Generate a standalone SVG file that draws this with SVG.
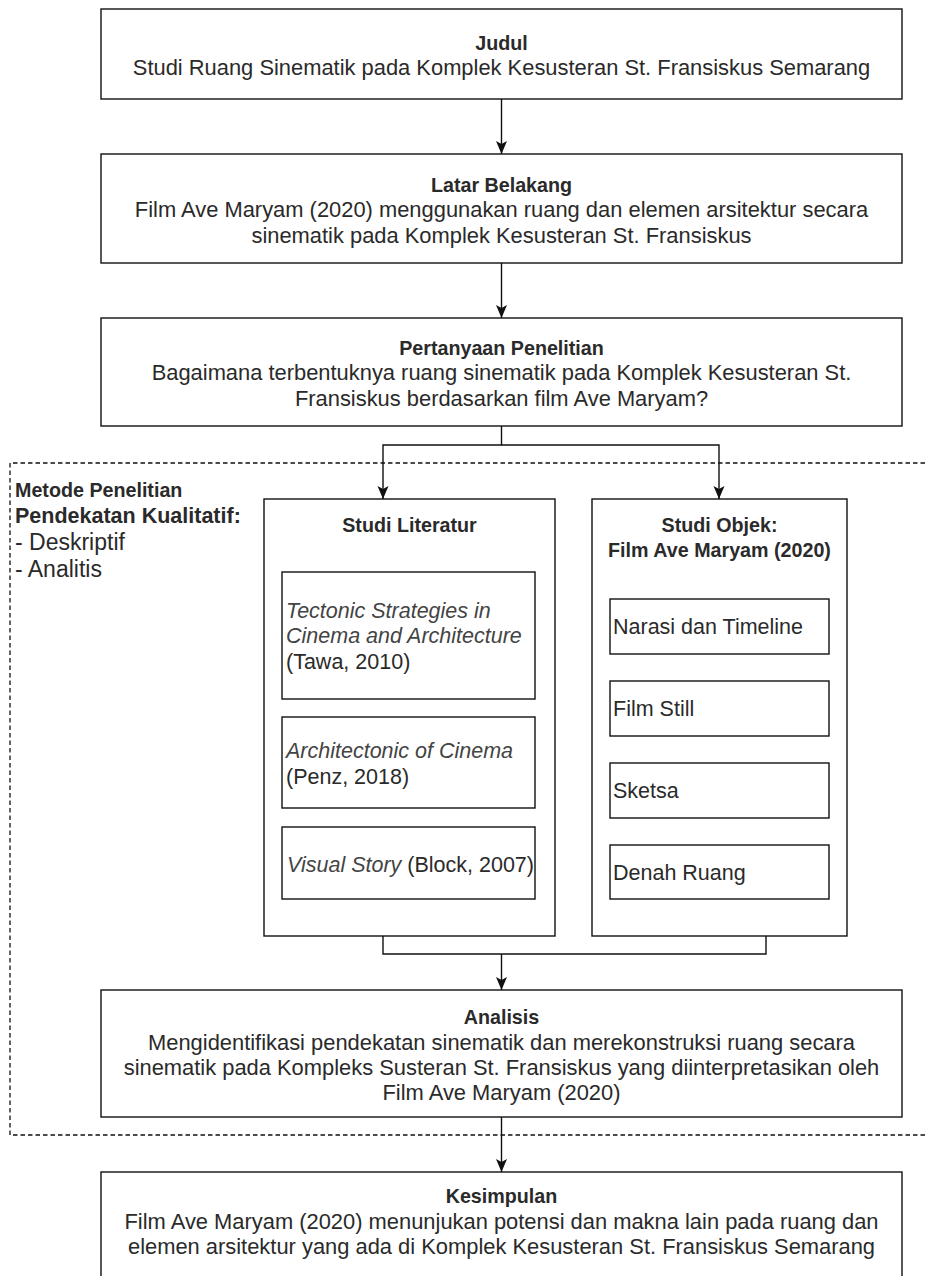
<svg xmlns="http://www.w3.org/2000/svg" width="926" height="1276" viewBox="0 0 926 1276">
<style>
.box{fill:#fff;stroke:#111;stroke-width:1.4}
.t{font-family:"Liberation Sans",Arial,Helvetica,sans-serif;fill:#2a2a2a}
.h{font-size:19.7px;font-weight:bold;text-anchor:middle}
.b{font-size:21.9px;text-anchor:middle}
.i{font-size:21.5px}
.it{font-style:italic;fill:#444}
.con{fill:none;stroke:#111;stroke-width:1.4}
.dash{fill:none;stroke:#111;stroke-width:1.3;stroke-dasharray:4.5 3}
</style>
<defs>
<marker id="arr" markerUnits="userSpaceOnUse" viewBox="0 0 13 13" markerWidth="13" markerHeight="13" refX="13" refY="6.5" orient="auto">
<path d="M0,1 L13,6.5 L0,12 L3,6.5 z" fill="#111"/>
</marker>
</defs>
<rect width="926" height="1276" fill="#fff"/>
<path class="dash" d="M940,463 H10 V1135 H940"/>
<g id="metode">
<text class="t" x="15" y="497" font-size="19.7" font-weight="bold">Metode Penelitian</text>
<text class="t" x="15" y="523" font-size="21.5" font-weight="bold">Pendekatan Kualitatif:</text>
<text class="t" x="15" y="550" font-size="23">- Deskriptif</text>
<text class="t" x="15" y="577" font-size="23">- Analitis</text>
</g>
<g id="connectors">
<path class="con" d="M501.5,99 V154" marker-end="url(#arr)"/>
<path class="con" d="M501.5,263 V318" marker-end="url(#arr)"/>
<path class="con" d="M501.5,426 V445 H383 V499" marker-end="url(#arr)"/>
<path class="con" d="M501.5,445 H719 V499" marker-end="url(#arr)"/>
<path class="con" d="M383,936 V954 H766 V936"/>
<path class="con" d="M501.5,954 V990" marker-end="url(#arr)"/>
<path class="con" d="M501.5,1117 V1172" marker-end="url(#arr)"/>
</g>
<g id="judul">
<rect class="box" x="101" y="9" width="801" height="90"/>
<text class="t h" x="501.5" y="50">Judul</text>
<text class="t b" x="501.5" y="75">Studi Ruang Sinematik pada Komplek Kesusteran St. Fransiskus Semarang</text>
</g>
<g id="latar">
<rect class="box" x="101" y="154" width="801" height="109"/>
<text class="t h" x="501.5" y="191.5">Latar Belakang</text>
<text class="t b" x="501.5" y="217">Film Ave Maryam (2020) menggunakan ruang dan elemen arsitektur secara</text>
<text class="t b" x="501.5" y="242.5">sinematik pada Komplek Kesusteran St. Fransiskus</text>
</g>
<g id="pertanyaan">
<rect class="box" x="101" y="318" width="801" height="108"/>
<text class="t h" x="501.5" y="354.5">Pertanyaan Penelitian</text>
<text class="t b" x="501.5" y="380">Bagaimana terbentuknya ruang sinematik pada Komplek Kesusteran St.</text>
<text class="t b" x="501.5" y="406">Fransiskus berdasarkan film Ave Maryam?</text>
</g>
<g id="studi-literatur">
<rect class="box" x="264" y="499" width="291" height="437"/>
<text class="t h" x="409.5" y="532">Studi Literatur</text>
</g>
<g id="lit-tawa">
<rect class="box" x="282" y="572" width="253" height="127"/>
<text class="t i it" x="286" y="618">Tectonic Strategies in</text>
<text class="t i it" x="286" y="643">Cinema and Architecture</text>
<text class="t i" x="286" y="669">(Tawa, 2010)</text>
</g>
<g id="lit-penz">
<rect class="box" x="282" y="717" width="253" height="91"/>
<text class="t i it" x="286" y="757.5">Architectonic of Cinema</text>
<text class="t i" x="286" y="783.5">(Penz, 2018)</text>
</g>
<g id="lit-block">
<rect class="box" x="282" y="827" width="253" height="72"/>
<text class="t i" x="287" y="872"><tspan class="it">Visual Story</tspan> (Block, 2007)</text>
</g>
<g id="studi-objek">
<rect class="box" x="592" y="499" width="255" height="437"/>
<text class="t h" x="719.5" y="532">Studi Objek:</text>
<text class="t h" x="719.5" y="557">Film Ave Maryam (2020)</text>
</g>
<g id="obj-narasi">
<rect class="box" x="610" y="599" width="219" height="55"/>
<text class="t i" x="613" y="634">Narasi dan Timeline</text>
</g>
<g id="obj-still">
<rect class="box" x="610" y="681" width="219" height="55"/>
<text class="t i" x="613" y="716">Film Still</text>
</g>
<g id="obj-sketsa">
<rect class="box" x="610" y="763" width="219" height="55"/>
<text class="t i" x="613" y="798">Sketsa</text>
</g>
<g id="obj-denah">
<rect class="box" x="610" y="845" width="219" height="54"/>
<text class="t i" x="613" y="880">Denah Ruang</text>
</g>
<g id="analisis">
<rect class="box" x="101" y="990" width="801" height="127"/>
<text class="t h" x="501.5" y="1023.5">Analisis</text>
<text class="t b" x="501.5" y="1049.5">Mengidentifikasi pendekatan sinematik dan merekonstruksi ruang secara</text>
<text class="t b" x="501.5" y="1074.5">sinematik pada Kompleks Susteran St. Fransiskus yang diinterpretasikan oleh</text>
<text class="t b" x="501.5" y="1100">Film Ave Maryam (2020)</text>
</g>
<g id="kesimpulan">
<rect class="box" x="101" y="1172" width="801" height="130"/>
<text class="t h" x="501.5" y="1203">Kesimpulan</text>
<text class="t b" x="501.5" y="1228.5">Film Ave Maryam (2020) menunjukan potensi dan makna lain pada ruang dan</text>
<text class="t b" x="501.5" y="1254">elemen arsitektur yang ada di Komplek Kesusteran St. Fransiskus Semarang</text>
</g>
</svg>
